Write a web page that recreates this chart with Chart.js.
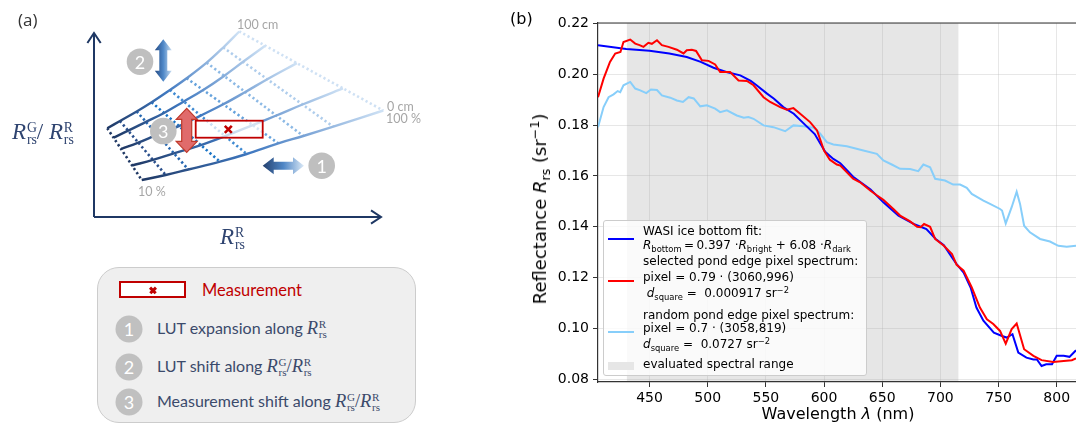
<!DOCTYPE html>
<html>
<head>
<meta charset="utf-8">
<script src="https://cdn.jsdelivr.net/npm/chart.js@4.4.1/dist/chart.umd.min.js"></script>
<style>
html,body{margin:0;padding:0;background:#fff;}
#wrap{position:relative;width:1076px;height:428px;overflow:hidden;background:#fff;}
canvas{position:absolute;top:0;}
.t{position:absolute;white-space:nowrap;line-height:1;}
.vc{transform:translateY(-50%);}
.cc{transform:translate(-50%,-50%);}
.sans{font-family:"DejaVu Sans",sans-serif;}
.lato{font-family:Lato,"Open Sans",sans-serif;}
.mr{font-family:"Liberation Serif","DejaVu Serif",serif;}
.mr i{font-style:italic;}
.ss{display:inline-block;font-size:0.6em;line-height:0.85;vertical-align:-0.35em;margin-left:0.06em;font-style:normal;text-align:left;}
.ss span{display:block;}
.num{position:absolute;color:#fff;font:18px Lato,"Open Sans",sans-serif;transform:translate(-50%,-50%);line-height:1;}
.lcirc{position:absolute;width:27px;height:27px;border-radius:50%;background:#c0c0c0;transform:translate(-50%,-50%);}
.lg{position:absolute;left:643px;font:12px "DejaVu Sans",sans-serif;color:#000;white-space:nowrap;line-height:14px;transform:translateY(-50%);}
.lg sub{font-size:70%;vertical-align:-0.35em;line-height:0;}
.lg sup{font-size:70%;vertical-align:0.5em;line-height:0;}
.lt{position:absolute;left:157px;font:16px Lato,"Open Sans",sans-serif;color:#3b4a6b;white-space:nowrap;transform:translateY(-50%);line-height:1;}
.lt .mr{font-size:18.5px;}
</style>
</head>
<body>
<div id="wrap">
  <canvas id="ca" width="440" height="428" style="left:0;width:440px;height:428px;"></canvas>
  <canvas id="cb" width="556" height="428" style="left:520px;width:556px;height:428px;"></canvas>

  <!-- panel (a) texts -->
  <div class="t vc" style="left:18px;top:19px;font:17px 'Open Sans',sans-serif;color:#333;">(a)</div>
  <div class="t vc lato" style="left:237px;top:25px;font-size:12.5px;color:#a6a6a6;">100 cm</div>
  <div class="t vc lato" style="left:387px;top:106.5px;font-size:12.5px;color:#a6a6a6;">0 cm</div>
  <div class="t vc lato" style="left:386px;top:119px;font-size:12.5px;color:#a6a6a6;">100 %</div>
  <div class="t vc lato" style="left:138px;top:192px;font-size:12.5px;color:#a6a6a6;">10 %</div>
  <div class="t vc mr" style="left:12px;top:133px;font-size:23px;color:#2f4470;"><i>R</i><span class="ss"><span>G</span><span>rs</span></span>/ <i>R</i><span class="ss"><span>R</span><span>rs</span></span></div>
  <div class="t vc mr" style="left:220px;top:238px;font-size:23px;color:#2f4470;"><i>R</i><span class="ss"><span>R</span><span>rs</span></span></div>
  <div class="num" style="left:321.7px;top:165.7px;">1</div>
  <div class="num" style="left:140px;top:61.7px;">2</div>
  <div class="num" style="left:163.3px;top:131px;">3</div>

  <!-- panel (a) legend box -->
  <div style="position:absolute;left:97px;top:267px;width:319px;height:156px;box-sizing:border-box;background:#efefef;border:1.5px solid #cccccc;border-radius:22px;"></div>
  <div style="position:absolute;left:119px;top:281px;width:67px;height:17px;box-sizing:border-box;background:#fff;border:2px solid #c00000;"></div>
  <div style="position:absolute;left:148.5px;top:288.5px;width:8px;height:2.6px;background:#c00000;transform:rotate(45deg);"></div>
  <div style="position:absolute;left:148.5px;top:288.5px;width:8px;height:2.6px;background:#c00000;transform:rotate(-45deg);"></div>
  <div class="t vc lato" style="left:202px;top:290px;font-size:16.5px;color:#c00000;">Measurement</div>
  <div class="lcirc" style="left:129px;top:329px;"></div><div class="num" style="left:129px;top:329px;">1</div>
  <div class="lcirc" style="left:129px;top:367px;"></div><div class="num" style="left:129px;top:367px;">2</div>
  <div class="lcirc" style="left:129px;top:402px;"></div><div class="num" style="left:129px;top:402px;">3</div>
  <div class="lt" style="top:329px;">LUT expansion along <span class="mr"><i>R</i><span class="ss"><span>R</span><span>rs</span></span></span></div>
  <div class="lt" style="top:367px;">LUT shift along <span class="mr"><i>R</i><span class="ss"><span>G</span><span>rs</span></span>/<i>R</i><span class="ss"><span>R</span><span>rs</span></span></span></div>
  <div class="lt" style="top:402px;">Measurement shift along <span class="mr"><i>R</i><span class="ss"><span>G</span><span>rs</span></span>/<i>R</i><span class="ss"><span>R</span><span>rs</span></span></span></div>

  <!-- panel (b) texts -->
  <div class="t vc sans" style="left:510px;top:19px;font-size:16px;color:#000;">(b)</div>
  <div class="t sans" style="left:540px;top:209px;font-size:18px;color:#000;transform:translate(-50%,-50%) rotate(-90deg);">Reflectance <i>R</i><sub style="font-size:70%;vertical-align:-0.3em;line-height:0;">rs</sub> (sr<sup style="font-size:70%;vertical-align:0.55em;line-height:0;">−1</sup>)</div>
  <div class="t cc sans" style="left:838px;top:414px;font-size:16px;color:#000;">Wavelength <i>λ</i> (nm)</div>

  <!-- panel (b) legend -->
  <div style="position:absolute;left:603px;top:220px;width:264px;height:156px;box-sizing:border-box;background:rgba(255,255,255,0.8);border:1px solid #cccccc;border-radius:3px;"></div>
  <div style="position:absolute;left:608px;top:238.3px;width:26px;height:2px;background:#0000ff;"></div>
  <div style="position:absolute;left:608px;top:279.7px;width:26px;height:2px;background:#ff0000;"></div>
  <div style="position:absolute;left:608px;top:330.7px;width:26px;height:2px;background:#87cefa;"></div>
  <div style="position:absolute;left:608px;top:361.5px;width:26px;height:8px;background:#e6e6e6;"></div>
  <div class="lg" style="top:230.7px;">WASI ice bottom fit:</div>
  <div class="lg" style="top:245px;"><i>R</i><sub>bottom</sub>&thinsp;=&thinsp;0.397 ·<i>R</i><sub>bright</sub> + 6.08 ·<i>R</i><sub>dark</sub></div>
  <div class="lg" style="top:260.7px;">selected pond edge pixel spectrum:</div>
  <div class="lg" style="top:276.7px;">pixel = 0.79 · (3060,996)</div>
  <div class="lg" style="top:293.3px;left:646.7px;"><i>d</i><sub>square</sub> =&nbsp; 0.000917 sr<sup>−2</sup></div>
  <div class="lg" style="top:315px;">random pond edge pixel spectrum:</div>
  <div class="lg" style="top:328.3px;">pixel = 0.7 · (3058,819)</div>
  <div class="lg" style="top:344px;"><i>d</i><sub>square</sub> =&nbsp; 0.0727 sr<sup>−2</sup></div>
  <div class="lg" style="top:364.3px;">evaluated spectral range</div>
</div>

<script>
// ---------------- panel (b) data ----------------
const fitWavelength = [405.7,430,450,467,482,494,505,516,528,537,542,551,557,565,574,582,592,601,608,614,625,640,651,664,677,683,688,696,703,710,714,720,726,731,737,746,753,757,762,767,774,780,783,787,791,796,800,806,811,816.6];
const fitReflectance = [0.2114,0.2100,0.2093,0.2082,0.2068,0.2049,0.2026,0.2009,0.1996,0.1974,0.1957,0.1924,0.1904,0.1871,0.1845,0.1809,0.1765,0.1695,0.1667,0.1650,0.1597,0.1547,0.1496,0.1444,0.1411,0.1400,0.1391,0.1352,0.1327,0.1279,0.1253,0.1220,0.1161,0.1082,0.1030,0.0983,0.0970,0.0964,0.0977,0.0905,0.0885,0.0878,0.0878,0.0852,0.0859,0.0859,0.0892,0.0892,0.0888,0.0914];

const selWavelength = [405.7,410.5,416,420.5,425,427.6,433.4,437.7,441.4,444.8,449,452,456.4,460.6,466.3,473.5,479.2,482,486.4,490,495,500.7,506.4,510.7,519.3,526.5,533.7,539.4,548,553.7,562.3,568,573.7,579.5,588,594,600,605,611,614,625,631,640,645,651,659.6,665.4,674,680,683,686,691.2,695.5,703,710,714,720,727,734,740,745.5,751.3,756.2,761.3,765.6,772,780,787,797,806,813,816.6];
const selReflectance = [0.1910,0.1983,0.2049,0.2082,0.2088,0.2127,0.2137,0.2121,0.2115,0.2108,0.2124,0.2120,0.2134,0.2115,0.2108,0.2097,0.2082,0.2095,0.2097,0.2092,0.2055,0.2053,0.2039,0.2009,0.2009,0.1976,0.1974,0.1957,0.1910,0.1891,0.1871,0.1861,0.1867,0.1845,0.1812,0.1779,0.1700,0.1664,0.1645,0.1641,0.1589,0.1575,0.1542,0.1525,0.1506,0.1470,0.1444,0.1421,0.1400,0.1398,0.1411,0.1400,0.1352,0.1325,0.1293,0.1250,0.1227,0.1161,0.1082,0.1036,0.1017,0.0990,0.0940,0.0997,0.1019,0.0918,0.0892,0.0875,0.0868,0.0872,0.0875,0.0882];

const rndWavelength = [405.7,410.5,414.8,419.1,422.6,424.8,427.6,433.4,437.7,442,447.2,451.2,456.4,460.6,467.8,473.5,478.7,483.6,488,493.6,499.3,506.4,510.7,516.5,525,531,535,539.4,548,556.5,566.6,573.7,582.3,591,596.6,602.4,608,619.6,633.8,645.4,651,658.2,665.4,674,681,685.4,691.2,695.5,704,711,717,722.7,727,737,742.7,751.3,753,756.2,761.3,765.6,768.5,772,777,785.7,794.2,801.4,808.6,816.6];
const rndReflectance = [0.1792,0.1871,0.1910,0.1921,0.1934,0.1930,0.1957,0.1970,0.1944,0.1937,0.1926,0.1940,0.1938,0.1917,0.1908,0.1897,0.1891,0.1910,0.1905,0.1874,0.1878,0.1865,0.1851,0.1858,0.1838,0.1829,0.1832,0.1825,0.1799,0.1792,0.1776,0.1799,0.1796,0.1790,0.1767,0.1733,0.1724,0.1717,0.1700,0.1687,0.1661,0.1645,0.1628,0.1627,0.1619,0.1645,0.1634,0.1589,0.1582,0.1566,0.1566,0.1553,0.1529,0.1503,0.1490,0.1470,0.1464,0.1413,0.1477,0.1538,0.1490,0.1404,0.1378,0.1352,0.1342,0.1325,0.1321,0.1325];

const evaluatedRange = [430.5, 715.5];
const xTickValues = [450,500,550,600,650,700,750,800];
const yTickValues = [0.08,0.10,0.12,0.14,0.16,0.18,0.20,0.22];

// ---------------- panel (a) schematic data (diagram units) ----------------
const lutCurve1 = [[13.3,88.7],[26,96],[42.7,105.5],[57.7,114.7],[76,127],[92.7,138.7],[112.7,154.3],[129.3,169.5],[145.3,185.5]];
const lutCurve2 = [[19.5,79.4],[34.2,86.3],[52,95.1],[70,104],[89.8,115.5],[109.2,127],[130.1,141.1],[149.1,155.2],[171.2,171.3]];
const lutCurve3 = [[27.1,68],[44.3,74.4],[63.3,82.3],[85,90.9],[106.7,101.4],[129.3,112.7],[151.3,125],[173.3,137.8],[202.9,153.9]];
const lutCurve4 = [[38.1,51.5],[58.9,57.1],[79.9,63.7],[106.9,71.9],[131.2,80.9],[158.7,91.9],[182.3,101.5],[208.5,112.5],[249,128.6]];
const lutCurve5 = [[47.7,37],[71.7,42],[94.3,47.5],[126,55.3],[152.7,63],[184.3,73.7],[209.3,81],[239.3,90.3],[289.3,106.5]];
const lutCurves = [lutCurve1,lutCurve2,lutCurve3,lutCurve4,lutCurve5];
const axisYLine = [[0,0],[0,184]];
const axisXLine = [[0,0],[287,0]];
const axisYHead = [[-6.6,174],[0,184],[6.7,174]];
const axisXHead = [[277,6.6],[287,0],[277,-6.7]];
const stepCircles = [[227.7,51.3],[46,155.3],[69.3,86]];
const measurementBox = [[101.7,79.3],[168.7,96.3]];
const measurementPoint = [134.3,87.7];
const arrowLUTExpansion = [[168.7,51.3],[210,51.3]];
const arrowLUTShift = [[69.3,177.7],[69.3,135.3]];
const arrowMeasShift = [[92.7,108.7],[92.7,64.7]];

// ---------------- styles ----------------
const isoColors = ['#1f3864','#2a4f8c','#2466b0','#1a74c6','#3f8ad2','#65a2dc','#8cb9e5','#afcdec','#cfe1f4'];
const navy = '#1f3864';

const toXY = (xs, ys) => xs.map((x,i)=>({x:x, y:ys[i]}));
const pts = arr => arr.map(p=>({x:p[0], y:p[1]}));

// ---------------- panel (b) chart ----------------
const shadePlugin = {
  id:'shade',
  beforeDraw(ch){
    const {ctx, chartArea:a, scales:{x}} = ch;
    const x0 = x.getPixelForValue(evaluatedRange[0]), x1 = x.getPixelForValue(evaluatedRange[1]);
    ctx.save(); ctx.fillStyle = '#e6e6e6';
    ctx.fillRect(x0, a.top, x1-x0, a.bottom-a.top);
    ctx.restore();
  }
};
const topFrame = {
  id:'topFrame',
  afterDraw(ch){
    const {ctx, chartArea:a} = ch;
    ctx.save(); ctx.strokeStyle='#333'; ctx.lineWidth=1.2;
    ctx.beginPath(); ctx.moveTo(a.left, a.top); ctx.lineTo(a.right, a.top); ctx.stroke();
    ctx.restore();
  }
};

new Chart(document.getElementById('cb'), {
  type:'scatter',
  data:{datasets:[
    {label:'selected', data:toXY(selWavelength, selReflectance), showLine:true, borderColor:'#ff0000', borderWidth:2, pointRadius:0, order:0},
    {label:'fit', data:toXY(fitWavelength, fitReflectance), showLine:true, borderColor:'#0000ff', borderWidth:2, pointRadius:0, order:1},
    {label:'random', data:toXY(rndWavelength, rndReflectance), showLine:true, borderColor:'#87cefa', borderWidth:2, pointRadius:0, order:2}
  ]},
  options:{
    responsive:false, animation:false, events:[],
    layout:{padding:{top:23, right:0, left:0, bottom:0}, autoPadding:false},
    plugins:{legend:{display:false}, tooltip:{enabled:false}},
    scales:{
      x:{type:'linear', min:405.7, max:816.6,
         afterBuildTicks:s=>{s.ticks = xTickValues.map(v=>({value:v}));},
         ticks:{font:{family:'DejaVu Sans', size:14}, color:'#000', padding:3, maxRotation:0, autoSkip:false, includeBounds:false},
         grid:{color:'rgba(176,176,176,0.3)', lineWidth:1, tickLength:5, tickColor:'#333'},
         border:{display:true, color:'#333', width:1.2},
         afterFit:s=>{s.height=46;}},
      y:{type:'linear', min:0.0789, max:0.2202,
         afterBuildTicks:s=>{s.ticks = yTickValues.map(v=>({value:v}));},
         ticks:{font:{family:'DejaVu Sans', size:14}, color:'#000', padding:4, autoSkip:false, includeBounds:false, callback:v=>Number(v).toFixed(2)},
         grid:{color:'rgba(176,176,176,0.3)', lineWidth:1, tickLength:5, tickColor:'#333'},
         border:{display:true, color:'#333', width:1.2},
         afterFit:s=>{s.width=78;}}
    }
  },
  plugins:[shadePlugin, topFrame]
});

// ---------------- panel (a) chart ----------------
function curveGradient(c){
  const ch = c.chart;
  if(!ch.chartArea || !ch.scales.x) return navy;
  const d = c.dataset.data, xs = ch.scales.x;
  const g = ch.ctx.createLinearGradient(xs.getPixelForValue(d[0].x),0,xs.getPixelForValue(d[d.length-1].x),0);
  g.addColorStop(0,'#1f3864'); g.addColorStop(0.45,'#3f78c0'); g.addColorStop(1,'#cfe2f5');
  return g;
}
function dblArrow(ctx,x1,y1,x2,y2,shaft,head,hl,fill,stroke){
  const dx=x2-x1, dy=y2-y1, L=Math.hypot(dx,dy), ux=dx/L, uy=dy/L, nx=-uy, ny=ux;
  const P=(a,b)=>[x1+ux*a+nx*b, y1+uy*a+ny*b];
  const p=[P(0,0),P(hl,head/2),P(hl,shaft/2),P(L-hl,shaft/2),P(L-hl,head/2),P(L,0),P(L-hl,-head/2),P(L-hl,-shaft/2),P(hl,-shaft/2),P(hl,-head/2)];
  ctx.beginPath(); p.forEach((q,i)=>i?ctx.lineTo(q[0],q[1]):ctx.moveTo(q[0],q[1])); ctx.closePath();
  ctx.fillStyle=fill; ctx.fill();
  if(stroke){ctx.strokeStyle=stroke; ctx.lineWidth=1.2; ctx.stroke();}
}
const diagPlugin = {
  id:'diag',
  afterDatasetsDraw(ch){
    const {ctx, scales:{x,y}} = ch;
    const X=v=>x.getPixelForValue(v), Y=v=>y.getPixelForValue(v);
    ctx.save();
    const bx0=X(measurementBox[0][0]), bx1=X(measurementBox[1][0]), by0=Y(measurementBox[1][1]), by1=Y(measurementBox[0][1]);
    ctx.fillStyle='rgba(255,255,255,0.72)'; ctx.fillRect(bx0,by0,bx1-bx0,by1-by0);
    ctx.strokeStyle='#c00000'; ctx.lineWidth=1.8; ctx.strokeRect(bx0,by0,bx1-bx0,by1-by0);
    const mx=X(measurementPoint[0]), my=Y(measurementPoint[1]);
    ctx.lineWidth=2.6; ctx.beginPath();
    ctx.moveTo(mx-3.5,my-3.5); ctx.lineTo(mx+3.5,my+3.5); ctx.moveTo(mx+3.5,my-3.5); ctx.lineTo(mx-3.5,my+3.5); ctx.stroke();
    let a=arrowLUTExpansion, ax1=X(a[0][0]), ay1=Y(a[0][1]), ax2=X(a[1][0]), ay2=Y(a[1][1]);
    let g=ctx.createLinearGradient(ax1,0,ax2,0); g.addColorStop(0,'#24406e'); g.addColorStop(0.5,'#4f86c6'); g.addColorStop(1,'#dbe9f6');
    dblArrow(ctx,ax1,ay1,ax2,ay2,8,17,11,g,null);
    a=arrowLUTShift; ax1=X(a[0][0]); ay1=Y(a[0][1]); ax2=X(a[1][0]); ay2=Y(a[1][1]);
    g=ctx.createLinearGradient(ax1-8.5,0,ax1+8.5,0); g.addColorStop(0,'#254b84'); g.addColorStop(0.5,'#4f88c8'); g.addColorStop(1,'#c9def2');
    dblArrow(ctx,ax1,ay1,ax2,ay2,8,17,11,g,null);
    a=arrowMeasShift; ax1=X(a[0][0]); ay1=Y(a[0][1]); ax2=X(a[1][0]); ay2=Y(a[1][1]);
    dblArrow(ctx,ax1,ay1,ax2,ay2,10,21,11,'#e06b6b','#c0392b');
    ctx.restore();
  }
};

const diagDatasets = [];
diagDatasets.push({data:pts(stepCircles), showLine:false, pointRadius:13.3, pointBackgroundColor:'#bfbfbf', pointBorderWidth:0, order:0});
lutCurves.forEach(c=>diagDatasets.push({data:pts(c), showLine:true, pointRadius:0, borderWidth:2.4, tension:0.4, borderColor:curveGradient, order:1}));
for(let i=0;i<lutCurve1.length;i++){
  diagDatasets.push({data:pts(lutCurves.map(c=>c[i])), showLine:true, pointRadius:0, borderWidth:2.6, borderDash:[2.2,2.6], tension:0.3, borderColor:isoColors[i], order:2});
}
[axisYLine, axisXLine, axisYHead, axisXHead].forEach(l=>diagDatasets.push({data:pts(l), showLine:true, pointRadius:0, borderWidth:2, borderColor:navy, tension:0, order:3}));

new Chart(document.getElementById('ca'), {
  type:'scatter',
  data:{datasets:diagDatasets},
  options:{
    responsive:false, animation:false, events:[],
    layout:{padding:0, autoPadding:false},
    plugins:{legend:{display:false}, tooltip:{enabled:false}},
    scales:{
      x:{type:'linear', min:-94, max:346, display:false},
      y:{type:'linear', min:-211, max:217, display:false}
    }
  },
  plugins:[diagPlugin]
});
</script>
</body>
</html>
